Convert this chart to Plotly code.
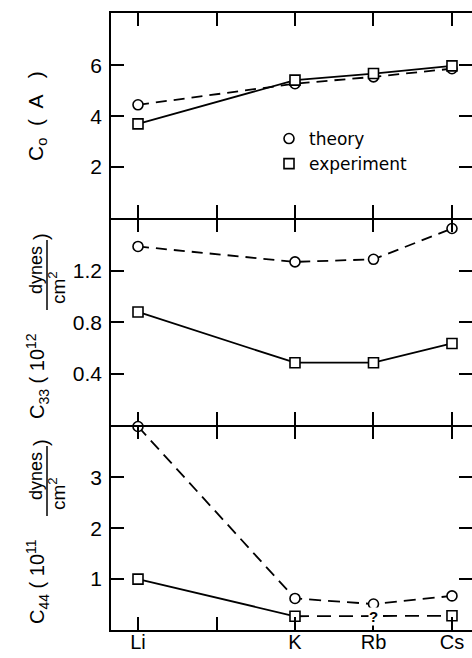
import plotly.graph_objects as go

# ---------------- data ----------------
elements = ["Li", "K", "Rb", "Cs"]
axis_categories = ["Li", "Na", "K", "Rb", "Cs"]
axis_ticktext = ["Li", "", "K", "Rb", "Cs"]

c0_theory = [4.45, 5.28, 5.55, 5.87]
c0_experiment = [3.70, 5.42, 5.68, 5.98]

c33_theory = [1.39, 1.27, 1.29, 1.53]
c33_experiment = [0.88, 0.485, 0.485, 0.635]

c44_theory = [4.0, 0.62, 0.51, 0.67]
c44_experiment = [1.0, 0.27, None, 0.28]

c0_ticks = [2, 4, 6]
c33_ticks = [0.4, 0.8, 1.2]
c44_ticks = [1, 2, 3]

# ---------------- layout helpers ----------------
W, H = 472, 658
def px(x):
    return x / W
def py(y):
    return 1 - y / H

FONT = "Liberation Sans, Arial, Helvetica, sans-serif"
LW = 1.8
AX_LW = 1.5
dash = "11px,7px"

fig = go.Figure()

def add_series(xs, ys, xa, ya, symbol, line_dash):
    fig.add_trace(go.Scatter(
        x=xs, y=ys, xaxis=xa, yaxis=ya, mode="lines+markers",
        line=dict(color="black", width=LW, dash=line_dash),
        marker=dict(symbol=symbol, size=10, color="white",
                    line=dict(color="black", width=1.6)),
        cliponaxis=False, showlegend=False, connectgaps=False))

# top panel
add_series(elements, c0_theory, "x", "y", "circle", dash)
add_series(elements, c0_experiment, "x", "y", "square", "solid")
# middle panel
add_series(elements, c33_theory, "x2", "y2", "circle", dash)
add_series(elements, c33_experiment, "x2", "y2", "square", "solid")
# bottom panel
add_series(elements, c44_theory, "x3", "y3", "circle", "12px,7px")
# experiment: solid Li-K, dashed K..Cs across the missing Rb value
known = [(e, v) for e, v in zip(elements, c44_experiment) if v is not None]
fig.add_trace(go.Scatter(
    x=[known[1][0], known[2][0]], y=[known[1][1], known[2][1]],
    xaxis="x3", yaxis="y3", mode="lines",
    line=dict(color="black", width=LW, dash="14px,8px"),
    cliponaxis=False, showlegend=False))
fig.add_trace(go.Scatter(
    x=elements[:2], y=c44_experiment[:2], xaxis="x3", yaxis="y3",
    mode="lines", line=dict(color="black", width=LW),
    cliponaxis=False, showlegend=False))
fig.add_trace(go.Scatter(
    x=[k[0] for k in known], y=[k[1] for k in known], xaxis="x3", yaxis="y3",
    mode="markers",
    marker=dict(symbol="square", size=10, color="white",
                line=dict(color="black", width=1.6)),
    cliponaxis=False, showlegend=False))

# legend entries
fig.add_trace(go.Scatter(x=[None], y=[None], mode="markers", name="theory",
                         marker=dict(symbol="circle", size=10, color="white",
                                     line=dict(color="black", width=1.6)),
                         legendgroup="a"))
fig.add_trace(go.Scatter(x=[None], y=[None], mode="markers", name="experiment",
                         marker=dict(symbol="square", size=10, color="white",
                                     line=dict(color="black", width=1.6)),
                         legendgroup="b"))

# ---------------- axes ----------------
xdom = [px(111), 1.0]
xrange = [-0.344, 4.255]
common_x = dict(type="category", categoryorder="array", categoryarray=axis_categories,
                tickvals=axis_categories, ticktext=axis_ticktext,
                range=xrange, domain=xdom, showline=True, linecolor="black",
                linewidth=AX_LW, mirror="ticks", ticks="inside", ticklen=13,
                tickwidth=1.5, tickcolor="black", showgrid=False, zeroline=False,
                fixedrange=True)
common_y = dict(showline=True, linecolor="black", linewidth=AX_LW, mirror="ticks",
                ticks="inside", ticklen=13, tickwidth=1.5, tickcolor="black",
                showgrid=False, zeroline=False, fixedrange=True,
                tickfont=dict(family=FONT, size=21, color="black"),
                ticklabelstandoff=3)

# adjacent panels share one boundary line: offset by the line width
d_top = [py(218), py(13)]
d_mid = [py(425), py(218 + AX_LW)]
d_bot = [py(630), py(425 + AX_LW)]

fig.update_layout(
    xaxis=dict(common_x, anchor="y", showticklabels=False),
    xaxis2=dict(common_x, anchor="y2", showticklabels=False),
    xaxis3=dict(common_x, anchor="y3", showticklabels=True,
                tickfont=dict(family=FONT, size=20, color="black"),
                ticklabelstandoff=-7),
    yaxis=dict(common_y, anchor="x", domain=d_top, range=[0, 8.06],
               tickvals=c0_ticks, ticktext=[str(t) for t in c0_ticks]),
    yaxis2=dict(common_y, anchor="x2", domain=d_mid, range=[0, 1.6],
                tickvals=c33_ticks, ticktext=[f"{t:.1f}" for t in c33_ticks]),
    yaxis3=dict(common_y, anchor="x3", domain=d_bot, range=[0, 4.0],
                tickvals=c44_ticks, ticktext=[str(t) for t in c44_ticks]),
)

# ---------------- titles (rotated annotations) ----------------
ann = []
def txt(text, x, y, size, angle=-90, **kw):
    ann.append(dict(text=text, x=px(x), y=py(y), xref="paper", yref="paper",
                    showarrow=False, textangle=angle, xanchor="center",
                    yanchor="middle", font=dict(family=FONT, size=size, color="black"),
                    **kw))

txt("C<sub>o</sub>  (  A   )", 37, 116, 21)

# middle: C33 (10^12 dynes/cm2)
OFF = 206
txt("C<sub>33</sub> ( 10<sup>12</sup>", 37, 582 - OFF, 20)
txt("dynes", 36, 476 - OFF, 18)
txt("cm<sup>2</sup>", 57, 494 - OFF, 19)
txt(")", 41, 443 - OFF, 20)

# bottom: C44 (10^11 dynes/cm2)
txt("C<sub>44</sub> ( 10<sup>11</sup>", 37, 582, 20)
txt("dynes", 36, 476, 18)
txt("cm<sup>2</sup>", 57, 494, 19)
txt(")", 41, 443, 20)

# question mark at the missing Rb experiment point
ann.append(dict(text="<b>?</b>", x="Rb", y=(known[1][1] + known[2][1]) / 2,
                xref="x3", yref="y3", showarrow=False,
                font=dict(family=FONT, size=15, color="black"),
                bgcolor="white", borderpad=0))

shapes = [
    dict(type="line", xref="paper", yref="paper", x0=px(47), x1=px(47),
         y0=py(446 - OFF), y1=py(516 - OFF), line=dict(color="black", width=1.5)),
    dict(type="line", xref="paper", yref="paper", x0=px(47), x1=px(47),
         y0=py(446), y1=py(516), line=dict(color="black", width=1.5)),
]

fig.update_layout(
    width=W, height=H,
    margin=dict(l=0, r=0, t=0, b=0, autoexpand=False),
    paper_bgcolor="white", plot_bgcolor="white",
    annotations=ann, shapes=shapes,
    showlegend=True,
    legend=dict(x=px(269), y=py(121), xanchor="left", yanchor="top",
                bgcolor="rgba(0,0,0,0)", borderwidth=0,
                font=dict(family="DejaVu Sans, sans-serif", size=17, color="black"),
                traceorder="grouped", tracegroupgap=0, itemwidth=30),
)

fig.write_html("out.html", config={"displayModeBar": False},
               post_script="document.body.style.margin='0px';")
